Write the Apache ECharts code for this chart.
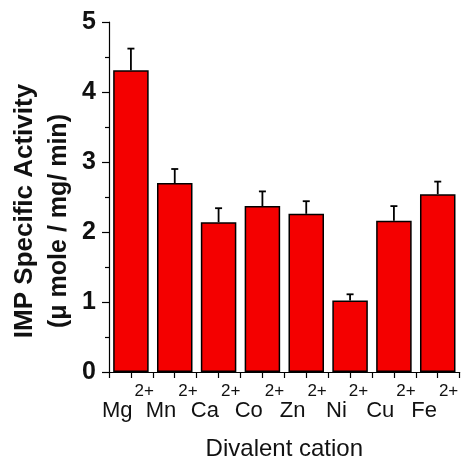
<!DOCTYPE html>
<html>
<head>
<meta charset="utf-8">
<script src="https://cdn.jsdelivr.net/npm/echarts@6/dist/echarts.min.js"></script>
<style>html,body{margin:0;padding:0;background:#fff;}#c{width:467px;height:466px;}</style>
</head>
<body>
<div id="c"></div>
<script>
const categories = ['Mg', 'Mn', 'Ca', 'Co', 'Zn', 'Ni', 'Cu', 'Fe'];
const charge = '2+';
const activity = [4.31, 2.70, 2.14, 2.37, 2.26, 1.02, 2.16, 2.54];
const errors = [0.31, 0.20, 0.20, 0.21, 0.18, 0.09, 0.21, 0.18];
const yTicks = [0, 1, 2, 3, 4, 5];

const chart = echarts.init(document.getElementById('c'));
const sans = "'Liberation Sans', Arial, sans-serif";

chart.setOption({
  animation: false,
  backgroundColor: '#fff',
  grid: { left: 109, right: 3, top: 22, bottom: 94 },
  xAxis: [{
    type: 'category',
    data: categories,
    position: 'bottom',
    axisLine: { lineStyle: { color: '#000', width: 1.2 } },
    axisTick: { show: true, alignWithLabel: true, length: 6, lineStyle: { color: '#000', width: 1.2 } },
    axisLabel: {
      interval: 0,
      margin: 26,
      formatter: v => '{n|' + v + '}{s|' + charge + '}',
      rich: {
        n: { fontFamily: sans, fontSize: 22, color: '#111', lineHeight: 24, verticalAlign: 'bottom' },
        s: { fontFamily: sans, fontSize: 17, color: '#111', lineHeight: 17, padding: [0, 6, 22, 2], verticalAlign: 'bottom' }
      }
    },
    name: 'Divalent cation',
    nameLocation: 'middle',
    nameGap: 65,
    nameTextStyle: { fontFamily: sans, fontSize: 24, color: '#111' }
  }, {
    type: 'category',
    data: categories,
    position: 'bottom',
    axisLine: { show: false },
    axisTick: { show: true, length: 6, lineStyle: { color: '#000', width: 1.2 } },
    axisLabel: { show: false }
  }],
  yAxis: {
    type: 'value',
    min: yTicks[0],
    max: yTicks[yTicks.length - 1],
    interval: 1,
    axisLine: { show: true, lineStyle: { color: '#000', width: 1.2 } },
    axisTick: { show: true, length: 7, lineStyle: { color: '#000', width: 1.2 } },
    minorTick: { show: true, splitNumber: 2, length: 4, lineStyle: { color: '#000', width: 1.2 } },
    splitLine: { show: false },
    axisLabel: { margin: 13, fontFamily: sans, fontWeight: 'bold', fontSize: 25, color: '#111' }
  },
  graphic: [
    { type: 'text', x: 25, y: 211, rotation: Math.PI / 2,
      style: { text: 'IMP Specific Activity', fontFamily: sans, fontWeight: 'bold', fontSize: 26, fill: '#111', align: 'center', verticalAlign: 'middle' } },
    { type: 'text', x: 59, y: 221, rotation: Math.PI / 2,
      style: { text: '(\u03bc mole / mg/ min)', fontFamily: sans, fontWeight: 'bold', fontSize: 25, fill: '#111', align: 'center', verticalAlign: 'middle' } }
  ],
  series: [{
    type: 'bar',
    data: activity,
    barCategoryGap: '19%',
    itemStyle: { color: '#f40000', borderColor: '#000', borderWidth: 1.5 },
    z: 2
  }, {
    type: 'custom',
    data: activity.map((v, i) => [i, v, errors[i]]),
    z: 3,
    renderItem: function (params, api) {
      const base = api.coord([api.value(0), api.value(1)]);
      const top = api.coord([api.value(0), api.value(1) + api.value(2)]);
      const style = { stroke: '#000', lineWidth: 1.8 };
      return { type: 'group', children: [
        { type: 'line', shape: { x1: base[0], y1: base[1], x2: top[0], y2: top[1] }, style: style },
        { type: 'line', shape: { x1: top[0] - 3.5, y1: top[1], x2: top[0] + 3.5, y2: top[1] }, style: style }
      ] };
    }
  }]
});
</script>
</body>
</html>
